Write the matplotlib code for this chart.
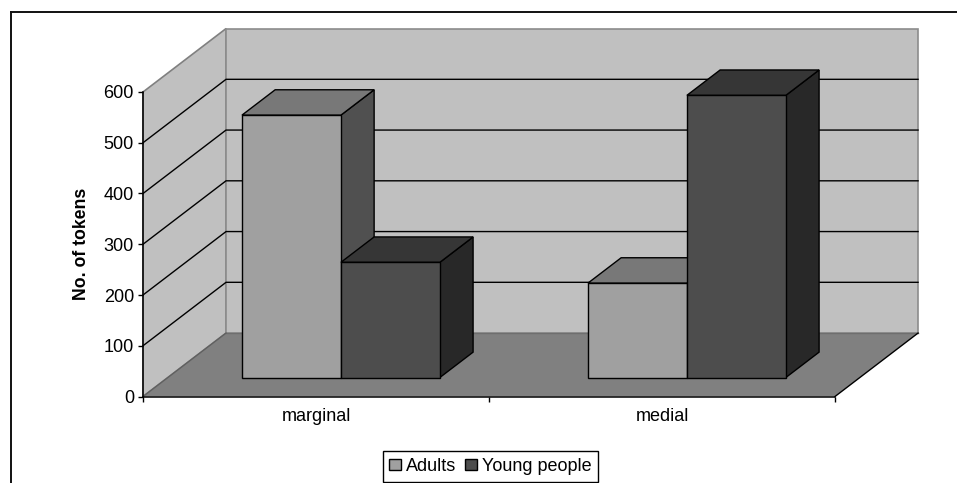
import matplotlib
matplotlib.use("Agg")
import matplotlib.pyplot as plt
from matplotlib.lines import Line2D
from matplotlib.patches import Polygon, Rectangle

categories = ["marginal", "medial"]
series_names = ["Adults", "Young people"]
adults = [517, 186]
young_people = [227, 556]
yticks = [0, 100, 200, 300, 400, 500, 600]

colors = {
    "Adults": ("#a0a0a0", "#787878", "#505050"),
    "Young people": ("#4d4d4d", "#363636", "#282828"),
}

W, H = 957, 483
plt.rcParams["font.family"] = ["Liberation Sans", "DejaVu Sans"]

fig = plt.figure(figsize=(W / 100, H / 100), dpi=100)
# axes box is the front plane of the 3D chart
left, right, top, bottom = 143, 835, 92, 396.5
ax = fig.add_axes([left / W, 1 - bottom / H, (right - left) / W, (bottom - top) / H])
ax.set_xlim(0, 2)
ax.set_ylim(0, 600)
ax.patch.set_visible(False)

# depth of the box and of the bars, in data units
box_dx, box_dy = 0.24, 125
bar_dx, bar_dy = 0.096, 50
bar_base = 37.4
bar_w = 0.286
bar_start = 0.286


def poly(points, fc, ec="none", lw=1.0, z=1):
    ax.add_patch(Polygon(points, closed=True, facecolor=fc, edgecolor=ec, linewidth=lw,
                         zorder=z, clip_on=False, joinstyle="miter"))


# walls and floor
poly([(0, 0), (box_dx, box_dy), (box_dx, 600 + box_dy), (0, 600)], "#c0c0c0", "#808080", 1.2)
poly([(box_dx, box_dy), (2 + box_dx, box_dy), (2 + box_dx, 600 + box_dy), (box_dx, 600 + box_dy)],
     "#c0c0c0", "#8c8c8c", 1.2)
poly([(0, 0), (2, 0), (2 + box_dx, box_dy), (box_dx, box_dy)], "#808080", "none")
ax.plot([box_dx, 2 + box_dx], [box_dy, box_dy], color="#6e6e6e", lw=1.0, zorder=1.5, clip_on=False)
ax.plot([0, box_dx], [0, box_dy], color="#606060", lw=1.0, zorder=1.5, clip_on=False)
ax.plot([2, 2 + box_dx], [0, box_dy], color="black", lw=1.0, zorder=1.5, clip_on=False)

# gridlines go along the side wall then across the back wall
for v in yticks[1:-1]:
    ax.plot([0, box_dx, 2 + box_dx], [v, v + box_dy, v + box_dy], color="black", lw=1.0,
            zorder=2, clip_on=False, solid_joinstyle="miter")

# bars: front face through ax.bar, then top and side faces
for name, values, off in zip(series_names, [adults, young_people], [0, 1]):
    face, roof, side = colors[name]
    for i, val in enumerate(values):
        x0 = i + bar_start + off * bar_w
        x1 = x0 + bar_w
        y0 = bar_base
        y1 = bar_base + val
        poly([(x1, y0), (x1 + bar_dx, y0 + bar_dy), (x1 + bar_dx, y1 + bar_dy), (x1, y1)],
             side, "black", 1.0, z=3 + off)
        poly([(x0, y1), (x1, y1), (x1 + bar_dx, y1 + bar_dy), (x0 + bar_dx, y1 + bar_dy)],
             roof, "black", 1.0, z=3 + off)
        ax.bar(x0, val, bar_w, bottom=y0, align="edge", color=face, edgecolor="black",
               linewidth=1.0, zorder=3 + off, clip_on=False)

# axes
for s in ["top", "right"]:
    ax.spines[s].set_visible(False)
for s in ["left", "bottom"]:
    ax.spines[s].set_linewidth(1.1)
    ax.spines[s].set_zorder(6)
ax.set_yticks(yticks)
ax.tick_params(axis="y", length=3.5, width=1.0, pad=3, labelsize=13)
ax.set_xticks([0, 1, 2])
ax.set_xticklabels([])
ax.set_xticks([0.5, 1.5], minor=True)
ax.set_xticklabels(categories, minor=True, fontsize=13)
ax.tick_params(axis="x", which="major", length=3.5, width=1.0)
ax.tick_params(axis="x", which="minor", length=0, pad=8)
fig.text(81 / W, 1 - 243.5 / H, "No. of tokens", rotation=90, ha="center", va="center",
         fontsize=12.7, fontweight="bold")

# legend
handles = [Rectangle((0, 0), 1, 1, facecolor=colors[n][0], edgecolor="black", linewidth=1.0)
           for n in series_names]
leg = fig.legend(handles, series_names, loc="center", bbox_to_anchor=(490.5 / W, 1 - 466.5 / H),
                 ncol=2, fontsize=13, fancybox=False, framealpha=1, edgecolor="black",
                 handlelength=0.62, handleheight=0.62, handletextpad=0.3, columnspacing=0.5,
                 borderpad=0.38, borderaxespad=0)
leg.get_frame().set_linewidth(1.0)

# outer frame runs off the right and bottom of the image
fig.add_artist(Line2D([10.5 / W, 10.5 / W], [0, 1 - 12 / H], color="#111111", lw=1.4))
fig.add_artist(Line2D([10.5 / W, 1], [1 - 12 / H, 1 - 12 / H], color="#111111", lw=1.4))

fig.savefig("out.png", dpi=100, facecolor="white")
